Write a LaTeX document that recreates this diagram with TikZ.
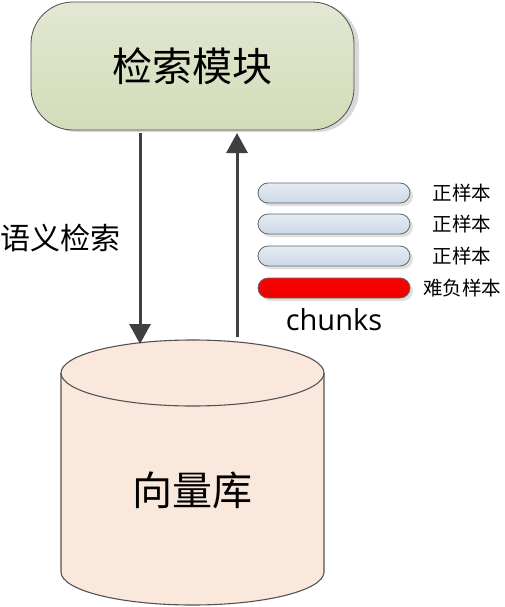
\documentclass[tikz,border=0pt]{standalone}
\usepackage{fontspec}
\setmainfont{Noto Sans CJK SC}
\newfontfamily\latinf{Open Sans}
\usetikzlibrary{arrows.meta,shadows}
\definecolor{boxtop}{HTML}{E2E8D2}
\definecolor{boxbot}{HTML}{D3DCB8}
\definecolor{barlight}{HTML}{E4EBF3}
\definecolor{bardark}{HTML}{CBD9E6}
\definecolor{cylfill}{HTML}{FBE8DD}
\definecolor{linegray}{HTML}{404040}
\tikzset{
  conn/.style={draw=linegray, line width=3pt, -{Triangle[length=20pt,width=21pt]}},
  barbox/.style={draw=gray!80!black, line width=0.8pt, rounded corners=10pt, minimum width=152pt, minimum height=20pt, inner sep=0pt, top color=barlight, bottom color=bardark},
  barlabel/.style={font=\fontsize{19.5}{22}\selectfont, anchor=center},
}
\begin{document}
\begin{tikzpicture}[x=1pt,y=-1pt]
\useasboundingbox (0,0) rectangle (504,607);
% shadow of top box
\fill[gray!30, rounded corners=42pt] (36,4) rectangle (359,132);
% top box
\node[draw=gray!60!black, line width=0.8pt, rounded corners=42pt, minimum width=323pt, minimum height=128pt, top color=boxtop, bottom color=boxbot, inner sep=0pt, font=\fontsize{40}{46}\selectfont] (mod) at (192.5,66) {检索模块};
% cylinder
\fill[cylfill] (61,373) -- (61,572) arc[start angle=180,end angle=360,x radius=131.5pt,y radius=33pt] -- (324,373) -- cycle;
\fill[cylfill] (192.5,373) ellipse[x radius=131.5pt,y radius=33pt];
\draw[linegray!90, line width=1.1pt] (61,373) -- (61,572) arc[start angle=180,end angle=360,x radius=131.5pt,y radius=33pt] -- (324,373);
\draw[linegray!90, line width=1.1pt] (192.5,373) ellipse[x radius=131.5pt,y radius=33pt];
\node[font=\fontsize{40}{46}\selectfont] (db) at (192.5,490) {向量库};
% connectors
\coordinate (d1) at (140,133);
\coordinate (d2) at (140,344);
\coordinate (u1) at (237,337);
\coordinate (u2) at (237,133);
\draw[conn] (d1) -- (d2);
\draw[conn] (u1) -- (u2);
\node[font=\fontsize{30}{34}\selectfont] (sem) at (60,238) {语义检索};
% bars
\foreach \i/\y in {1/193,2/224,3/256}{
  \fill[gray!25, rounded corners=10pt] (261,\y-7) rectangle (413,\y+13);
  \node[barbox] (b\i) at (334,\y) {};
  \node[barlabel] (l\i) at (462,\y) {正样本};
}
\fill[gray!25, rounded corners=10pt] (261,281) rectangle (413,301);
\node[barbox, top color=red, bottom color=red!92!black] (b4) at (334,288) {};
\node[barlabel] (l4) at (462,288) {难负样本};
\node[font=\latinf\fontsize{29}{33}\selectfont] (ch) at (334,320) {chunks};
\end{tikzpicture}
\end{document}
